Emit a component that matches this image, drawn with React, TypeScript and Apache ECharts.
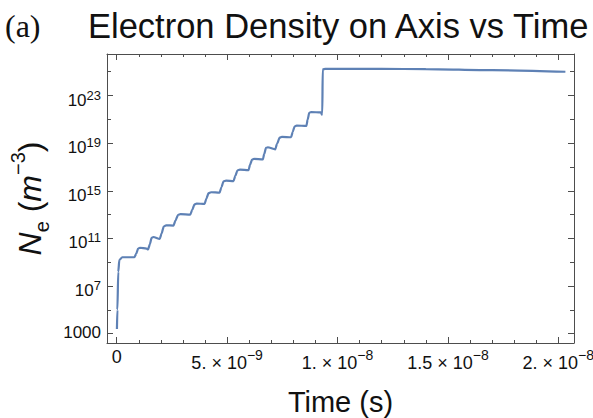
import React, { useEffect, useRef } from 'react';
import * as echarts from 'echarts';

// time in nanoseconds (axis labels are shown in seconds)
const timeNs = [
  0.01, 0.03, 0.07, 0.12, 0.25, 0.8, 0.88, 0.97, 1.05, 1.35, 1.42, 1.5, 1.58, 1.66,
  1.95, 2.03, 2.13, 2.24, 2.57, 2.66, 2.78, 2.89, 3.33, 3.42, 3.52, 3.62, 3.98, 4.06,
  4.16, 4.27, 4.66, 4.74, 4.84, 4.95, 5.29, 5.37, 5.47, 5.58, 5.97, 6.04, 6.13, 6.22,
  6.62, 6.68, 6.76, 6.84, 7.18, 7.26, 7.38, 7.48, 7.9, 7.97, 8.06, 8.15, 8.59, 8.65,
  8.72, 8.8, 9.25, 9.29, 9.31, 9.33, 9.45, 12, 14, 17, 20.32,
];
// log10 of electron density (m^-3)
const logNe = [
  3.4, 5.0, 8.2, 9.2, 9.42, 9.42, 9.7, 10.15, 10.22, 10.15, 10.08, 10.5, 11.05, 11.12,
  10.96, 11.4, 12.0, 12.1, 12.08, 12.5, 12.98, 13.04, 13.0, 13.4, 13.86, 13.93, 13.9, 14.35,
  14.8, 14.88, 14.85, 15.3, 15.8, 15.86, 15.82, 16.25, 16.72, 16.78, 16.74, 17.2, 17.62, 17.68,
  17.64, 18.1, 18.6, 18.66, 18.48, 18.95, 19.46, 19.53, 19.5, 19.95, 20.42, 20.48, 20.45, 21.0,
  21.55, 21.62, 21.58, 21.4, 21.5, 25.2, 25.24, 25.24, 25.22, 25.13, 25.0,
];

const xMajorTicks = [0, 5, 10, 15, 20];
const xMinorTicks = [1, 2, 3, 4, 6, 7, 8, 9, 11, 12, 13, 14, 16, 17, 18, 19];
const xTickMantissa = ['0', '5.', '1.', '1.5', '2.'];
const xTickExponent = ['', '−9', '−8', '−8', '−8'];

const yMajorTicks = [3, 7, 11, 15, 19, 23];
const yMinorTicks = [5, 9, 13, 17, 21, 25];
const yTickLabels = ['1000', '10|7', '10|11', '10|15', '10|19', '10|23'];

const X_MIN = -0.44;
const X_MAX = 20.71;
const Y_MIN = 2.22;
const Y_MAX = 26.49;

const SANS = '"Liberation Sans", Arial, sans-serif';
const SERIF = '"Liberation Serif", "Times New Roman", serif';
const FRAME = '#4d4d4d';
const TEXT = '#111111';

export default function App() {
  const ref = useRef<HTMLDivElement>(null);

  useEffect(() => {
    if (!ref.current) return;
    const chart = echarts.init(ref.current, null, { renderer: 'svg' });

    const tickRich = {
      p: { fontFamily: SANS, fontSize: 18, color: TEXT, lineHeight: 20, verticalAlign: 'top' },
      b: { fontFamily: SANS, fontSize: 18, color: TEXT, lineHeight: 20, verticalAlign: 'top', padding: [6, 0, 0, 0] },
      s: { fontFamily: SANS, fontSize: 14, color: TEXT, lineHeight: 14, verticalAlign: 'top', padding: [0, 0, 0, 0] },
    };
    const yRich = {
      p: { fontFamily: SANS, fontSize: 17, color: TEXT, lineHeight: 20, verticalAlign: 'top' },
      b: { fontFamily: SANS, fontSize: 17, color: TEXT, lineHeight: 20, verticalAlign: 'top', padding: [6, 0, 0, 0] },
      s: { fontFamily: SANS, fontSize: 13, color: TEXT, lineHeight: 14, verticalAlign: 'top', padding: [3, 0, 0, 0] },
    };

    const xAxisBase = (
      position: 'bottom' | 'top',
      ticks: number[],
      len: number,
      labels: boolean,
      line: boolean
    ) => ({
      type: 'value',
      position,
      min: X_MIN,
      max: X_MAX,
      axisLine: { show: line, onZero: false, lineStyle: { color: FRAME, width: 1 } },
      splitLine: { show: false },
      axisTick: {
        show: true,
        inside: true,
        length: len,
        customValues: ticks,
        lineStyle: { color: FRAME, width: 1 },
      },
      axisLabel: labels
        ? {
            show: true,
            margin: 5,
            customValues: xMajorTicks,
            rich: tickRich,
            formatter: (v: number) => {
              const i = xMajorTicks.indexOf(Math.round(v));
              if (i < 0) return '';
              if (!xTickExponent[i]) return `{p|${xTickMantissa[i]}}`;
              return `{b|${xTickMantissa[i]} × 10}{s|${xTickExponent[i]}}`;
            },
          }
        : { show: false },
    });

    const yAxisBase = (
      position: 'left' | 'right',
      ticks: number[],
      len: number,
      labels: boolean,
      line: boolean
    ) => ({
      type: 'value',
      position,
      min: Y_MIN,
      max: Y_MAX,
      axisLine: { show: line, onZero: false, lineStyle: { color: FRAME, width: 1 } },
      splitLine: { show: false },
      axisTick: {
        show: true,
        inside: true,
        length: len,
        customValues: ticks,
        lineStyle: { color: FRAME, width: 1 },
      },
      axisLabel: labels
        ? {
            show: true,
            margin: 6,
            customValues: yMajorTicks,
            rich: yRich,
            formatter: (v: number) => {
              const i = yMajorTicks.indexOf(Math.round(v));
              if (i < 0) return '';
              const [base, exp] = yTickLabels[i].split('|');
              return exp ? `{b|${base}}{s|${exp}}` : `{p|${base}}`;
            },
          }
        : { show: false },
    });

    const xMain: any = xAxisBase('bottom', xMajorTicks, 6, true, true);
    xMain.name = 'Time (s)';
    xMain.nameLocation = 'middle';
    xMain.nameGap = 44;
    xMain.nameTextStyle = { fontFamily: SANS, fontSize: 29, color: TEXT, lineHeight: 30 };

    const yMain: any = yAxisBase('left', yMajorTicks, 6, true, true);
    yMain.name = '{i|N}{sub|e}{n| (}{i|m}{sup|−3}{n|)}';
    yMain.nameLocation = 'middle';
    yMain.nameRotate = 90;
    yMain.nameGap = 41;
    yMain.nameTextStyle = {
      rich: {
        i: { fontFamily: SANS, fontStyle: 'italic', fontSize: 32, color: TEXT, lineHeight: 44 },
        n: { fontFamily: SANS, fontSize: 32, color: TEXT, lineHeight: 44 },
        sub: { fontFamily: SANS, fontSize: 20, color: TEXT, lineHeight: 29, verticalAlign: 'bottom' },
        sup: { fontFamily: SANS, fontSize: 20, color: TEXT, lineHeight: 26, verticalAlign: 'top' },
      },
    };

    chart.setOption({
      animation: false,
      backgroundColor: '#ffffff',
      title: [
        {
          text: '(a)',
          left: 5,
          top: 9,
          padding: 0,
          textStyle: { fontFamily: SERIF, fontSize: 32, fontWeight: 'normal', color: TEXT, lineHeight: 34 },
        },
        {
          text: 'Electron Density on Axis vs Time',
          left: 88,
          top: 9,
          padding: 0,
          textStyle: { fontFamily: SANS, fontSize: 34.5, fontWeight: 'normal', color: TEXT, lineHeight: 34 },
        },
      ],
      grid: {
        left: 107,
        top: 54,
        width: 467,
        height: 289,
        containLabel: false,
        outerBoundsMode: 'none',
      },
      xAxis: [
        xMain,
        xAxisBase('bottom', xMinorTicks, 3, false, false),
        xAxisBase('top', xMajorTicks, 6, false, true),
        xAxisBase('top', xMinorTicks, 3, false, false),
      ],
      yAxis: [
        yMain,
        yAxisBase('left', yMinorTicks, 4, false, false),
        yAxisBase('right', yMajorTicks, 6, false, true),
        yAxisBase('right', yMinorTicks, 4, false, false),
      ],
      series: [
        {
          type: 'line',
          xAxisIndex: 0,
          yAxisIndex: 0,
          data: timeNs.map((t, i) => [t, logNe[i]]),
          showSymbol: false,
          smooth: 0.25,
          smoothMonotone: 'x',
          lineStyle: { color: '#5E81B5', width: 2.2 },
        },
      ],
    });

    return () => chart.dispose();
  }, []);

  return (
    <div
      ref={ref}
      style={{ position: 'absolute', left: 0, top: 0, width: 593, height: 418, background: '#fff' }}
    />
  );
}
